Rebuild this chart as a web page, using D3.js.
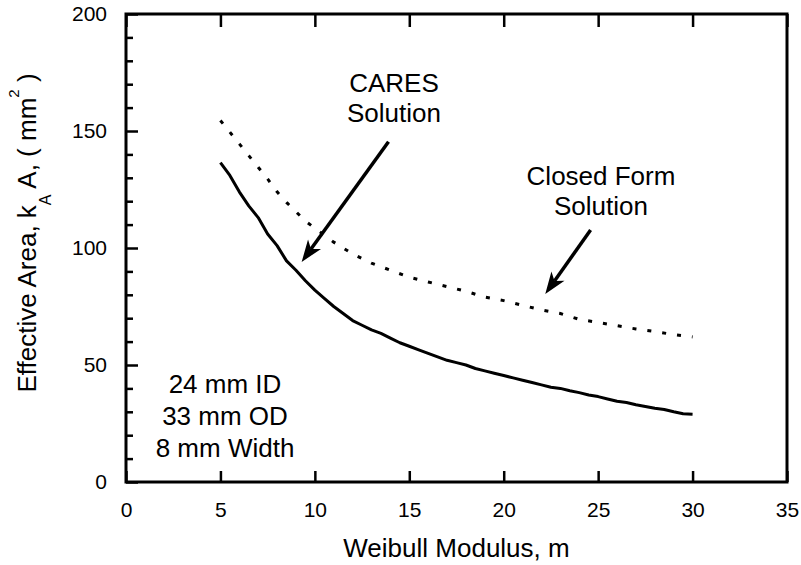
<!DOCTYPE html>
<html>
<head>
<meta charset="utf-8">
<script src="https://cdn.jsdelivr.net/npm/d3@7"></script>
<style>
  body { margin: 0; background: #fff; }
  text { font-family: "Liberation Sans", Arial, Helvetica, sans-serif; fill: #000; }
</style>
</head>
<body>
<svg id="chart"></svg>
<script>
// values
const caresM = [5, 5.5, 6, 6.5, 7, 7.5, 8, 8.5, 9, 9.5, 10, 10.5, 11, 11.5, 12, 12.5, 13, 13.5, 14, 14.5,
  15, 15.5, 16, 16.5, 17, 17.5, 18, 18.5, 19, 19.5, 20, 20.5, 21, 21.5, 22, 22.5, 23, 23.5, 24, 24.5,
  25, 25.5, 26, 26.5, 27, 27.5, 28, 28.5, 29, 29.5, 30];
const caresArea = [136.5, 131, 124, 118, 113, 106, 101, 94.5, 90.5, 86, 82, 78.5, 75, 72, 69, 67, 65, 63.5, 61.5, 59.5,
  58, 56.5, 55, 53.5, 52, 51, 50, 48.5, 47.5, 46.5, 45.5, 44.5, 43.5, 42.5, 41.5, 40.5, 40, 39, 38.2, 37.2,
  36.5, 35.5, 34.5, 34, 33, 32.3, 31.5, 31, 30, 29.2, 29];

const closedM = [5, 5.5, 6, 6.5, 7, 7.5, 8, 8.5, 9, 9.5, 10, 11, 12, 13, 14, 15, 16, 17, 18, 19,
  20, 21, 22, 23, 24, 25, 26, 27, 28, 29, 30];
const closedArea = [154.5, 149.5, 144.5, 139.5, 134.5, 129.5, 124, 119.5, 115.5, 111.5, 108.5, 102.5, 97.5, 93.5, 90.5, 87.5, 85.5, 83.5, 81.5, 79,
  77.5, 75.5, 73.5, 72, 69.5, 68.2, 66.8, 65.4, 64.3, 63, 62];

const xTicks = [0, 5, 10, 15, 20, 25, 30, 35];
const yTicks = [0, 50, 100, 150, 200];
const yMinor = [10, 20, 30, 40, 60, 70, 80, 90, 110, 120, 130, 140, 160, 170, 180, 190];

const width = 801, height = 565;
const margin = { top: 14, right: 14, bottom: 83, left: 126 };
const w = width - margin.left - margin.right;
const h = height - margin.top - margin.bottom;

const x = d3.scaleLinear().domain([0, 35]).range([0, w]);
const y = d3.scaleLinear().domain([0, 200]).range([h, 0]);

const svg = d3.select("#chart")
  .attr("width", width)
  .attr("height", height)
  .append("g")
  .attr("transform", `translate(${margin.left},${margin.top})`);

// axes
const xAxis = svg.append("g")
  .attr("transform", `translate(0,${h})`)
  .call(d3.axisBottom(x).tickValues(xTicks).tickSize(-11).tickPadding(20));
xAxis.selectAll("text").style("font-size", "21px");

svg.append("g")
  .call(d3.axisTop(x).tickValues(xTicks).tickSize(-13).tickFormat(""));

const yAxis = svg.append("g")
  .call(d3.axisLeft(y).tickValues(yTicks).tickSize(-12).tickPadding(19));
yAxis.selectAll("text").style("font-size", "21px");

svg.append("g")
  .call(d3.axisLeft(y).tickValues(yMinor).tickSize(-7).tickFormat(""));

svg.selectAll(".domain").remove();
svg.selectAll(".tick line").attr("stroke", "#000").attr("stroke-width", 2.5);

svg.append("rect")
  .attr("width", w)
  .attr("height", h)
  .attr("fill", "none")
  .attr("stroke", "#000")
  .attr("stroke-width", 3);

// curves
const line = d3.line().x((d) => x(d[0])).y((d) => y(d[1]));

svg.append("path")
  .datum(closedM.map((m, i) => [m, closedArea[i]]))
  .attr("d", line)
  .attr("fill", "none")
  .attr("stroke", "#000")
  .attr("stroke-width", 3)
  .attr("stroke-dasharray", "4,11");

svg.append("path")
  .datum(caresM.map((m, i) => [m, caresArea[i]]))
  .attr("d", line)
  .attr("fill", "none")
  .attr("stroke", "#000")
  .attr("stroke-width", 3)
  .attr("stroke-linejoin", "round");

// arrows
function arrow(from, to) {
  const x1 = x(from[0]), y1 = y(from[1]), x2 = x(to[0]), y2 = y(to[1]);
  const a = Math.atan2(y2 - y1, x2 - x1);
  const len = 22, half = 8, notch = 16;
  const bx = x2 - len * Math.cos(a), by = y2 - len * Math.sin(a);
  const nx = x2 - notch * Math.cos(a), ny = y2 - notch * Math.sin(a);
  svg.append("line")
    .attr("x1", x1).attr("y1", y1)
    .attr("x2", nx).attr("y2", ny)
    .attr("stroke", "#000")
    .attr("stroke-width", 3.5);
  const p = [
    [x2, y2],
    [bx - half * Math.sin(a), by + half * Math.cos(a)],
    [nx, ny],
    [bx + half * Math.sin(a), by - half * Math.cos(a)]
  ];
  svg.append("path")
    .attr("d", "M" + p.join("L") + "Z")
    .attr("fill", "#000");
}
arrow([13.9, 145.4], [9.3, 94]);
arrow([24.6, 107.7], [22.2, 80.3]);

// annotations
function label(lines, cx, baseline, step) {
  svg.append("text")
    .attr("text-anchor", "middle")
    .style("font-size", "26px")
    .selectAll("tspan")
    .data(lines)
    .join("tspan")
    .attr("x", cx)
    .attr("y", (d, i) => baseline + i * step)
    .text((d) => d);
}
label(["CARES", "Solution"], 394 - margin.left, 92 - margin.top, 30);
label(["Closed Form", "Solution"], 601 - margin.left, 185 - margin.top, 30);
label(["24 mm ID", "33 mm OD", "8 mm Width"], 225 - margin.left, 393 - margin.top, 32);

// axis titles
svg.append("text")
  .attr("x", w / 2)
  .attr("y", h + 75)
  .attr("text-anchor", "middle")
  .style("font-size", "26px")
  .text("Weibull Modulus, m");

const yt = svg.append("text")
  .attr("transform", `translate(${36 - margin.left},${233 - margin.top}) rotate(-90)`)
  .attr("text-anchor", "middle")
  .style("font-size", "26px");
yt.append("tspan").text("Effective Area, k");
yt.append("tspan").attr("dy", 15).style("font-size", "16px").text("A");
yt.append("tspan").attr("dy", -15).text(" A, ( mm");
yt.append("tspan").attr("dy", -17).style("font-size", "15px").text("2");
yt.append("tspan").attr("dy", 17).text(" )");
</script>
</body>
</html>
